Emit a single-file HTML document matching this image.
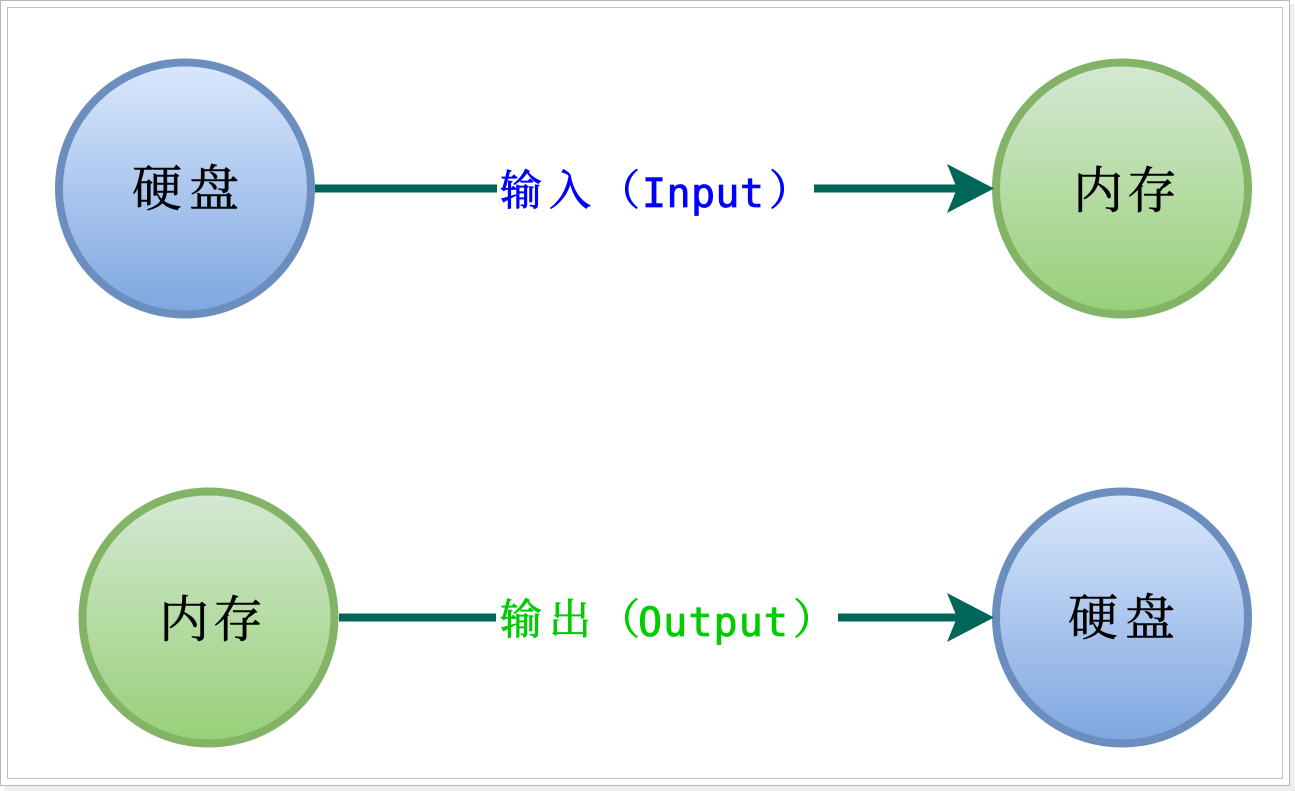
<!DOCTYPE html>
<html><head><meta charset="utf-8"><style>
html,body{margin:0;padding:0;background:#fff;width:1295px;height:791px;overflow:hidden}
svg{display:block}
.cjk{font-family:"Liberation Serif","Noto Serif CJK SC",serif}
.mono{font-family:"DejaVu Sans Mono","Liberation Mono",monospace}
</style></head><body>
<svg width="1295" height="791" viewBox="0 0 1295 791" xmlns="http://www.w3.org/2000/svg">
<defs>
<linearGradient id="b" x1="0" y1="0" x2="0" y2="1"><stop offset="0" stop-color="#dae8fc"/><stop offset="1" stop-color="#7ea6e0"/></linearGradient>
<linearGradient id="g" x1="0" y1="0" x2="0" y2="1"><stop offset="0" stop-color="#d5e8d4"/><stop offset="1" stop-color="#97d077"/></linearGradient>
</defs>
<rect x="1290" y="4" width="5" height="787" fill="#eee"/>
<rect x="4" y="786" width="1291" height="5" fill="#eee"/>
<rect x="0.5" y="0.5" width="1289" height="785" fill="#fff" stroke="#b8b8b8"/>
<rect x="7.5" y="7.5" width="1275" height="771" fill="#fff" stroke="#c0c0c0"/>

<circle cx="185" cy="188.500" r="126" fill="url(#b)" stroke="#6c8ebf" stroke-width="8"/>
<circle cx="1122" cy="188.500" r="126" fill="url(#g)" stroke="#82b366" stroke-width="8"/>
<circle cx="208.500" cy="617.500" r="126" fill="url(#g)" stroke="#82b366" stroke-width="8"/>
<circle cx="1122" cy="617.500" r="126" fill="url(#b)" stroke="#6c8ebf" stroke-width="8"/>

<g fill="#006658">
<rect x="315" y="184.500" width="182" height="8"/>
<rect x="814" y="184.500" width="145" height="8"/>
<path d="M994 188.500 L947 164 L957 188.500 L947 213 Z"/>
<rect x="339" y="613.500" width="157" height="8"/>
<rect x="838" y="613.500" width="121" height="8"/>
<path d="M994 617.500 L947 593 L957 617.500 L947 642 Z"/>
</g>

<g class="cjk" font-size="50" fill="#000" stroke="#000" stroke-width="0.5">
<text x="132" y="206">硬</text><text x="189" y="206">盘</text>
<text x="1073" y="208">内</text><text x="1127" y="208">存</text>
<text x="159" y="637">内</text><text x="213" y="637">存</text>
<text x="1068" y="635">硬</text><text x="1125" y="635">盘</text>
</g>

<g fill="#0000ff">
<g class="cjk" font-size="42" stroke="#0000ff" stroke-width="0.8"><text x="500" y="205">输</text><text x="549" y="205">入</text><text x="598" y="205">（</text><text x="769" y="205">）</text></g>
<text class="mono" font-size="40" x="642" y="207" textLength="122" lengthAdjust="spacing" stroke="#0000ff" stroke-width="0.8">Input</text>
</g>
<g fill="#00cc00">
<g class="cjk" font-size="42" stroke="#00cc00" stroke-width="0.8"><text x="500" y="634">输</text><text x="549" y="634">出</text><text x="598" y="634">（</text><text x="793" y="634">）</text></g>
<text class="mono" font-size="40" x="638" y="636" textLength="150" lengthAdjust="spacing" stroke="#00cc00" stroke-width="0.8">Output</text>
</g>
</svg>
</body></html>
